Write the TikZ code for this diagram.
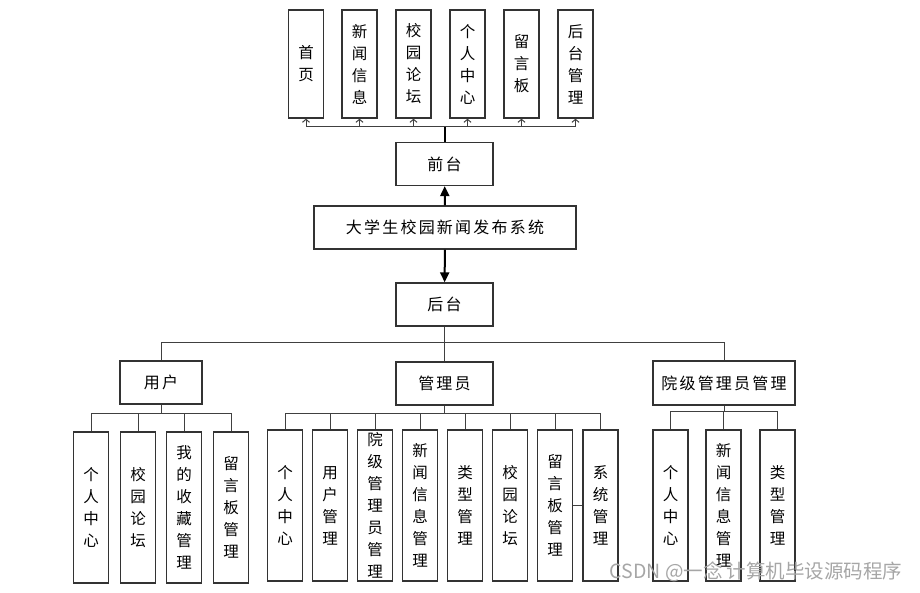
\documentclass[tikz,border=0pt]{standalone}
\usepackage{fontspec}
\setmainfont{Noto Sans CJK SC}
\newfontfamily\widecjk[LetterSpace=14]{Noto Sans CJK SC}
\usetikzlibrary{arrows.meta}

\begin{document}
\begin{tikzpicture}[x=1pt,y=-1pt,every node/.style={draw=black!80,line width=1.3pt,inner sep=0pt,font=\fontsize{15.5}{22}\selectfont},
hbox/.style={minimum width=97pt,minimum height=43pt,font=\fontsize{16}{18}\widecjk},
tbox/.style={minimum width=35pt,minimum height=108pt,align=center},
vbox/.style={minimum width=35pt,minimum height=151pt,align=center},
link/.style={draw=black!75,line width=1pt},
trunk/.style={line width=2pt},
barb/.style={-{Straight Barb[length=3pt,width=7pt]}}
]
\useasboundingbox (0,0) rectangle (920,592);

\node[hbox] (qt) at (444.5,164) {前台};
\node[hbox,minimum width=262pt] (sys) at (445,227.5) {大学生校园新闻发布系统};
\node[hbox] (ht) at (444.5,304.5) {后台};

% front end
\foreach \n/\x/\t in {sy/306/{首\\页}, xwxx/359.5/{新\\闻\\信\\息}, xylt/413.5/{校\\园\\论\\坛}, grzx/467.5/{个\\人\\中\\心}, lyb/521.5/{留\\言\\板}, htgl/575.5/{后\\台\\管\\理}}
  \node[tbox] (\n) at (\x,64) {\t};
\coordinate (qtfork) at (444.5,126);
\draw[trunk] (qt.north) -- (qtfork);
\foreach \n in {sy,xwxx,xylt,grzx,lyb,htgl}
  \draw[link,barb] (qtfork) -| (\n.south);
\draw[trunk,-{Triangle[length=10pt,width=9pt]}] (sys) -- (qt);
\draw[trunk,-{Triangle[length=10pt,width=9pt]}] (sys) -- (ht);

% back end
\node[hbox,minimum width=82pt] (yh) at (161,382.5) {用户};
\node[hbox] (gly) at (444.5,383.5) {管理员};
\node[hbox,minimum width=142pt,minimum height=44pt] (yj) at (724,383) {院级管理员管理};
\coordinate (htfork) at (444.5,342);
\draw[link] (ht.south) -- (htfork);
\foreach \n in {yh,gly,yj}
  \draw[link] (htfork) -| (\n.north);

\foreach \i/\x/\t in {1/91/{个\\人\\中\\心}, 2/138/{校\\园\\论\\坛}, 3/184/{我\\的\\收\\藏\\管\\理}, 4/231/{留\\言\\板\\管\\理}}{
  \node[vbox] (yh\i) at (\x,507.5) {\t};
  \draw[link] (yh.south) -- ++(0,9) -| (yh\i.north);
}
\foreach \i/\x/\t in {1/285/{个\\人\\中\\心}, 2/330/{用\\户\\管\\理}, 3/375/{院\\级\\管\\理\\员\\管\\理}, 4/420/{新\\闻\\信\\息\\管\\理}, 5/465/{类\\型\\管\\理}, 6/510/{校\\园\\论\\坛}, 7/555/{留\\言\\板\\管\\理}, 8/600.5/{系\\统\\管\\理}}{
  \node[vbox] (gl\i) at (\x,505.5) {\t};
  \draw[link] (gly.south) -- ++(0,8) -| (gl\i.north);
}
\draw[link] (gl7.east) -- (gl8.west);
\foreach \i/\x/\t in {1/670.5/{个\\人\\中\\心}, 2/723.5/{新\\闻\\信\\息\\管\\理}, 3/777.5/{类\\型\\管\\理}}{
  \node[vbox] (yj\i) at (\x,505.5) {\t};
  \draw[link] (yj.south) -- ++(0,6) -| (yj\i.north);
}

\node[draw=none,text=black!35,font=\fontsize{19.5}{20}\selectfont] (wm) at (756,572) {CSDN @一念 计算机毕设源码程序};
\end{tikzpicture}
\end{document}
